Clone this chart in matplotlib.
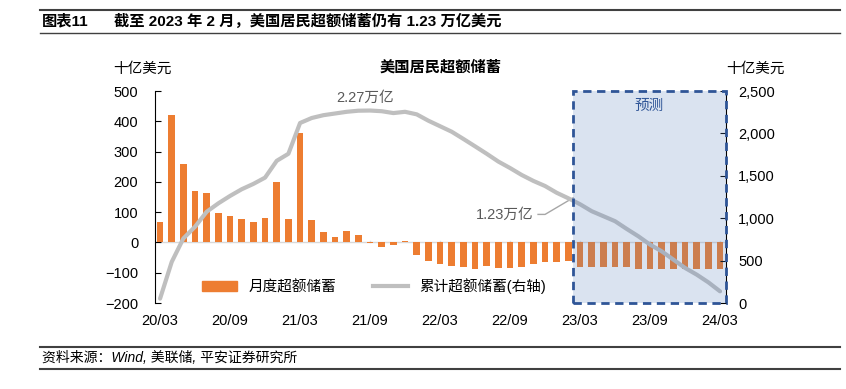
import numpy as np
import matplotlib
matplotlib.use("Agg")
import matplotlib.pyplot as plt
from matplotlib.patches import Rectangle
from matplotlib.lines import Line2D
from matplotlib.patches import Patch

plt.rcParams['font.family'] = ['Liberation Sans', 'Noto Sans CJK SC', 'DejaVu Sans']

# monthly excess savings, 2020/03 .. 2024/03 (billion USD)
monthly = [66, 420, 260, 169, 162, 97, 89, 78, 69, 82, 198, 78, 362, 74, 34, 19,
           37, 26, -2, -14, -10, 4, -41, -62, -70, -77, -81, -89, -77, -84, -84,
           -81, -70, -66, -64, -60,
           -80, -80, -80, -80, -80, -86, -86, -86, -86, -86, -88, -88, -88]
# cumulative excess savings (right axis)
cumulative = [52, 485, 762, 900, 1077, 1176, 1263, 1342, 1405, 1479, 1677, 1760,
              2123, 2182, 2215, 2235, 2255, 2268, 2270, 2262, 2240, 2255, 2225,
              2150, 2085, 2020, 1935, 1848, 1760, 1668, 1592, 1510, 1440, 1380,
              1300, 1235,
              1165, 1083, 1024, 965, 874, 787, 689, 610, 512, 414, 335, 244, 138]
tick_labels = ['20/03', '20/09', '21/03', '21/09', '22/03', '22/09', '23/03', '23/09', '24/03']
forecast_start = 36

x = np.arange(len(monthly))

fig = plt.figure(figsize=(8.46, 3.89), dpi=100)
ax = fig.add_axes([0.183, 0.221, 0.675, 0.545])
ax2 = ax.twinx()

ax.bar(x, monthly, width=0.57, color='#ED7D31', zorder=2)
ax.axhline(0, color='#D9D9D9', lw=1, zorder=1)
for t in range(0, len(x), 6):
    ax.plot([t, t], [0, 6], color='#D9D9D9', lw=1, zorder=1)

ax2.plot(x, cumulative, color='#BFBFBF', lw=3, solid_capstyle='round', zorder=3)

ax.set_xlim(-0.45, 48.5)
ax.set_ylim(-200, 500)
ax2.set_ylim(0, 2500)
ax.set_yticks(range(-200, 501, 100))
ax2.set_yticks(range(0, 2501, 500))
ax2.set_yticklabels([f'{v:,}' for v in range(0, 2501, 500)])
ax.set_xticks(range(0, len(x), 6))
ax.set_xticklabels(tick_labels)

for a in (ax, ax2):
    a.spines['top'].set_visible(False)
    a.spines['bottom'].set_visible(False)
ax.spines['right'].set_visible(False)
ax2.spines['left'].set_visible(False)
ax.spines['left'].set_color('black')
ax2.spines['right'].set_color('black')
ax.tick_params(axis='y', direction='in', length=4, labelsize=10.5, pad=12)
ax2.tick_params(axis='y', direction='in', length=4, labelsize=10.5, pad=9)
ax.tick_params(axis='x', length=0, labelsize=10.5, pad=8)

# forecast box
box = Rectangle((forecast_start - 0.6, 0), 48.5 - (forecast_start - 0.6), 2500,
                facecolor='#5A82BE', alpha=0.22, edgecolor='none', zorder=5,
                clip_on=False)
ax2.add_patch(box)
edge = Rectangle((forecast_start - 0.6, 0), 48.5 - (forecast_start - 0.6), 2500,
                 facecolor='none', edgecolor='#2F5597', lw=2, ls=(0, (3, 2)),
                 zorder=6, clip_on=False)
ax2.add_patch(edge)
ax2.text((forecast_start - 0.6 + 48.5) / 2, 2320, '预测', color='#2F5597',
         fontsize=10.5, ha='center', va='center', zorder=7)

# annotations
ax2.text(17.6, 2420, '2.27万亿', color='#595959', fontsize=10.5, ha='center', va='center')
ax2.text(29.5, 1045, '1.23万亿', color='#595959', fontsize=10.5, ha='center', va='center')
ax2.plot([32.4, 33.0, 35.4], [1045, 1045, 1240], color='#A6A6A6', lw=1)

ax.set_title('美国居民超额储蓄', fontsize=11, fontweight='bold', pad=14)
fig.text(0.134, 0.822, '十亿美元', fontsize=10.5, ha='left', va='center')
fig.text(0.893, 0.822, '十亿美元', fontsize=10.5, ha='center', va='center')

handles = [Patch(color='#ED7D31'), Line2D([0], [0], color='#BFBFBF', lw=3)]
ax.legend(handles, ['月度超额储蓄', '累计超额储蓄(右轴)'], loc='lower left',
          bbox_to_anchor=(0.06, -0.02), ncol=2, frameon=False, fontsize=10.5,
          handlelength=2.4, columnspacing=2.5)

# header and footer
fig.add_artist(Line2D([0.047, 0.993], [0.975, 0.975], color='#404040', lw=1.5))
fig.add_artist(Line2D([0.047, 0.993], [0.915, 0.915], color='#404040', lw=1))
fig.text(0.05, 0.945, '图表11', fontsize=11, fontweight='bold', va='center')
fig.text(0.135, 0.945, '截至 2023 年 2 月，美国居民超额储蓄仍有 1.23 万亿美元',
         fontsize=11, fontweight='bold', va='center')
fig.add_artist(Line2D([0.047, 0.993], [0.107, 0.107], color='#404040', lw=1.5))
fig.add_artist(Line2D([0.047, 0.993], [0.052, 0.052], color='#404040', lw=1.5))
fig.text(0.05, 0.080, '资料来源：Wind, 美联储, 平安证券研究所', fontsize=10,
         style='italic', va='center')

fig.savefig('out.png', dpi=100)
